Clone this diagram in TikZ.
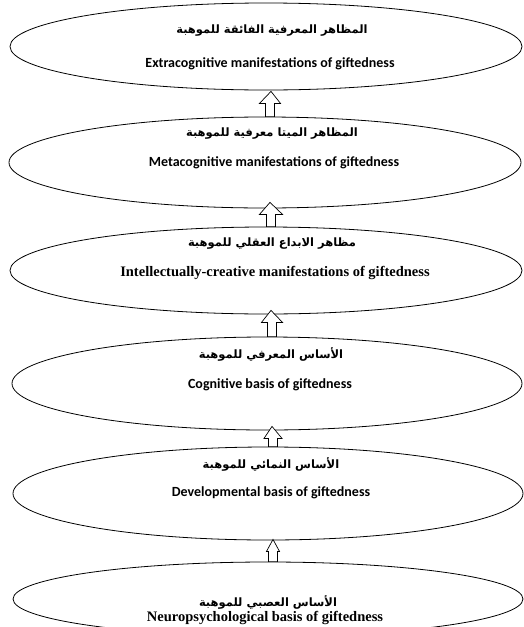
\documentclass[tikz,border=0pt]{standalone}
\usepackage{fontspec}
\usetikzlibrary{calc,shapes.geometric}
\TeXXeTstate=1
\newfontfamily\arabicfont[Script=Arabic]{DejaVu Sans}
\newfontfamily\calfont{Carlito}
\newfontfamily\timesfont{Liberation Serif}
\tikzset{
  ell/.style={draw, line width=0.8pt, ellipse, inner sep=0pt, minimum width=#1},
  ar/.style={font=\arabicfont\bfseries\fontsize{11.5}{13}\selectfont, inner sep=0pt},
  ensans/.style={font=\calfont\bfseries\fontsize{14}{16}\selectfont, inner sep=0pt},
  enserif/.style={font=\timesfont\bfseries\fontsize{14.5}{16}\selectfont, inner sep=0pt},
  blk/.style={draw, fill=white, line width=0.7pt, line join=miter}
}
\newcommand\blockarrow[4]{% from node #1 (lower) to node #2 (upper); #3 tip offset; #4 head half width
  \draw[blk] let \p1=($(#1.north)+(5,0)$), \p2=($(#2.south)+(5,#3)$) in
    (\x1-4.5,\y1) -- (\x1-4.5,\y2-12) -- (\x1-#4,\y2-12) -- (\x2,\y2) --
    (\x1+#4,\y2-12) -- (\x1+4.5,\y2-12) -- (\x1+4.5,\y1) -- cycle;
}
\begin{document}
\begin{tikzpicture}[x=1pt,y=-1pt]
\useasboundingbox (0,0) rectangle (524,627);
\begin{scope}
\clip (0,0) rectangle (524,627);
\node[ell=512, minimum height=87] (e1) at (266,46.5) {};
\node[ell=512, minimum height=91] (e2) at (265,162.5) {};
\node[ell=512, minimum height=87] (e3) at (266,270.5) {};
\node[ell=510, minimum height=93] (e4) at (267,383.5) {};
\node[ell=510, minimum height=93] (e5) at (268,493.5) {};
\node[ell=510, minimum height=74] (e6) at (268,599) {};
\end{scope}
\blockarrow{e2}{e1}{1}{10.5}
\blockarrow{e3}{e2}{-6}{11.5}
\blockarrow{e4}{e3}{-4}{10.5}
\blockarrow{e5}{e4}{-4}{9}
\blockarrow{e6}{e5}{-1}{6.5}
\node[ar] (a1) at (272,31) {\beginR المظاهر المعرفية الفائقة للموهبة\endR};
\node[ensans] (t1) at (270,64) {Extracognitive manifestations of giftedness};
\node[ar] (a2) at (272,134) {\beginR المظاهر الميتا معرفية للموهبة\endR};
\node[ensans] (t2) at (274,163) {Metacognitive manifestations of giftedness};
\node[ar] (a3) at (272,244) {\beginR مظاهر الابداع العقلي للموهبة\endR};
\node[enserif] (t3) at (275,273) {Intellectually-creative manifestations of giftedness};
\node[ar] (a4) at (271,354) {\beginR الأساس المعرفي للموهبة\endR};
\node[ensans] (t4) at (270,385) {Cognitive basis of giftedness};
\node[ar] (a5) at (271,464) {\beginR الأساس النمائي للموهبة\endR};
\node[ensans] (t5) at (271,493) {Developmental basis of giftedness};
\node[ar] (a6) at (268,602) {\beginR الأساس العصبي للموهبة\endR};
\node[enserif] (t6) at (265,618) {Neuropsychological basis of giftedness};
\end{tikzpicture}
\end{document}
